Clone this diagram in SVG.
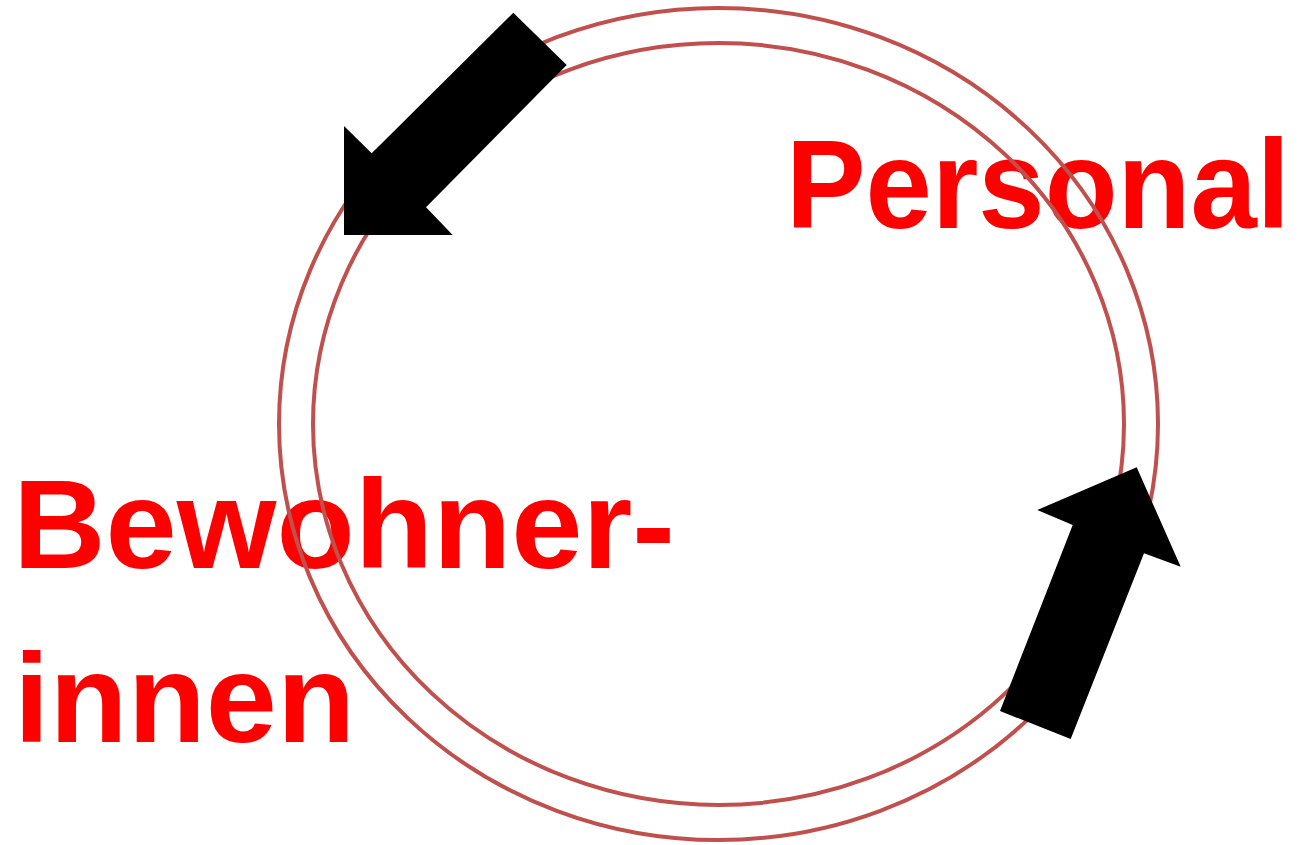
<svg xmlns="http://www.w3.org/2000/svg" width="1301" height="845" viewBox="0 0 1301 845">
<style>
.lbl{font-family:"Liberation Sans",Arial,sans-serif;font-weight:bold;font-size:127px;fill:#ff0000}
.ring{fill:none;stroke:#c0504d;stroke-width:4}
.arrow{fill:#000000}
</style>
<rect width="1301" height="845" fill="#ffffff"/>
<g id="label-personal"><text class="lbl" x="786" y="228" textLength="504" lengthAdjust="spacingAndGlyphs">Personal</text></g>
<g id="label-bewohner"><text class="lbl" x="13" y="568" textLength="662" lengthAdjust="spacingAndGlyphs">Bewohner-</text><text class="lbl" x="14" y="742" textLength="341" lengthAdjust="spacingAndGlyphs">innen</text></g>
<g id="cycle">
<ellipse class="ring" cx="718.5" cy="424" rx="439.5" ry="416"/>
<ellipse class="ring" cx="718.5" cy="424" rx="405.5" ry="381"/>
</g>
<g id="connectors">
<polygon class="arrow" points="513.3,12.7 566.7,65 426,207.3 452.7,235 344,235 344,126 371.7,153.3"/>
<polygon class="arrow" points="1136.7,467.3 1180.7,566.7 1144,553.3 1070.7,739 1000,711 1072.7,525 1037.3,510"/>
</g>
</svg>
